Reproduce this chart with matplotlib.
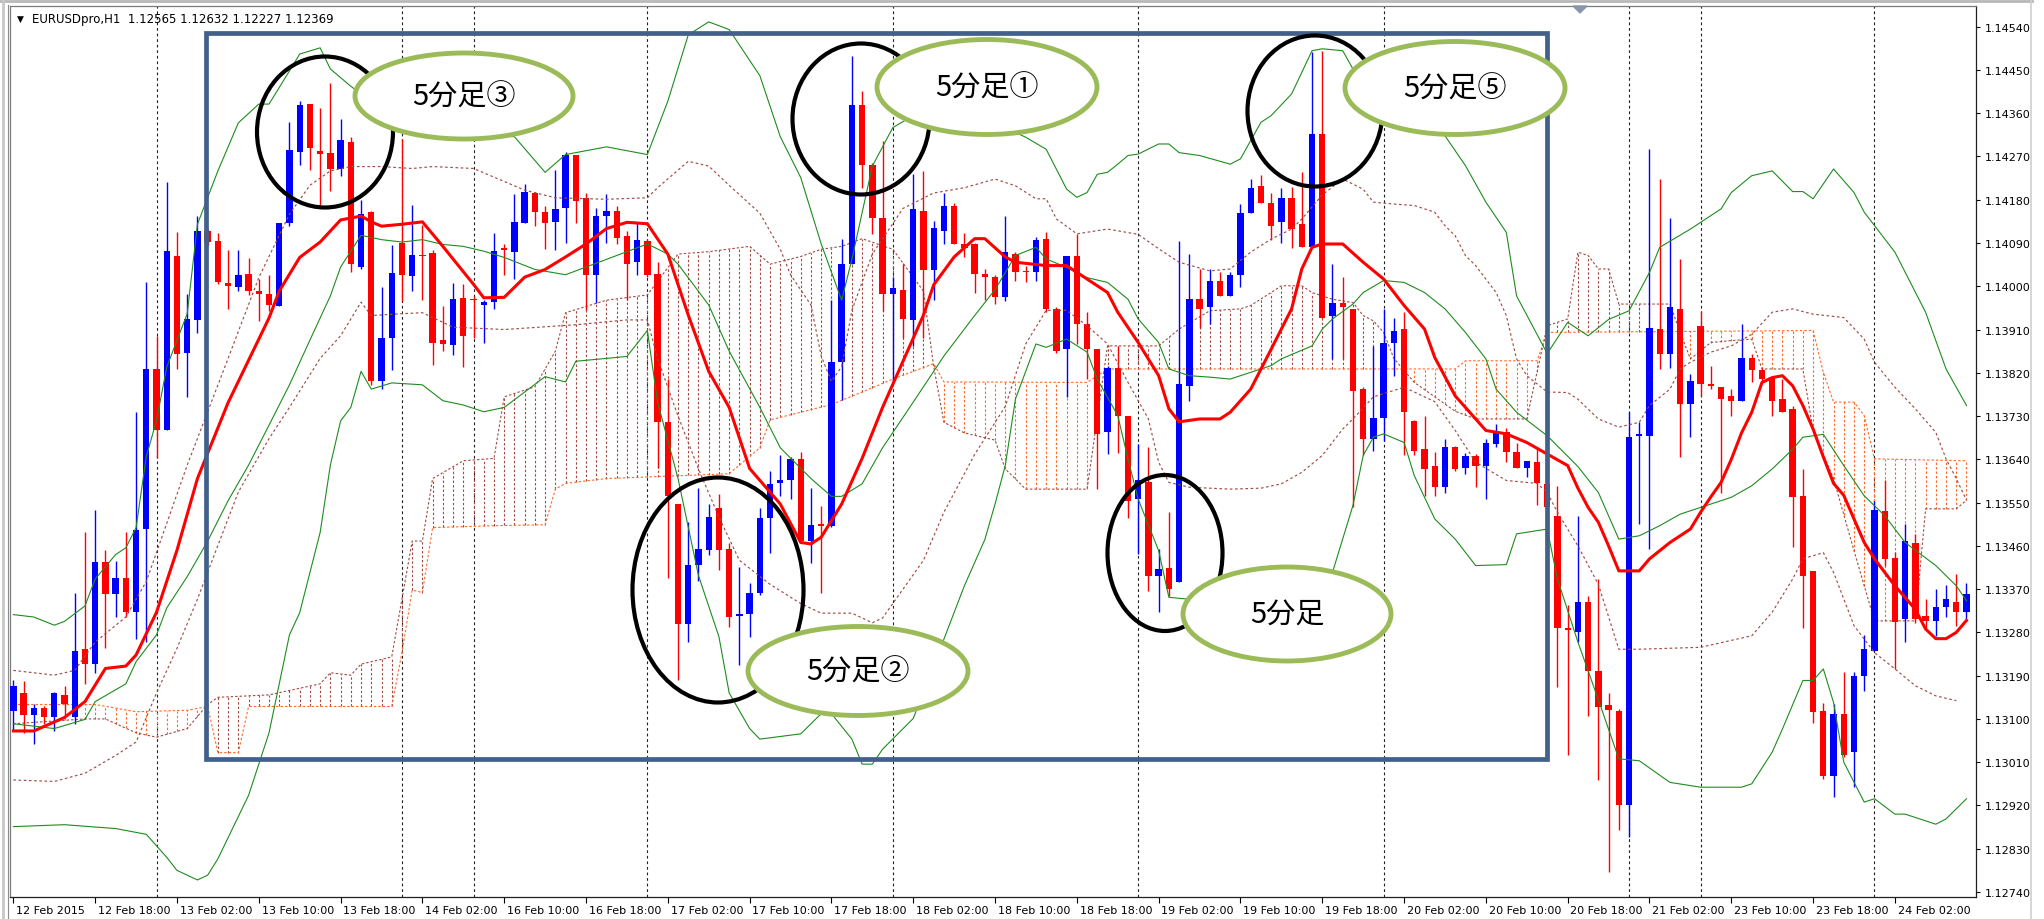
import numpy as np
import matplotlib
matplotlib.use("Agg")
import matplotlib.pyplot as plt
from matplotlib.patches import Ellipse, Rectangle, Polygon
import matplotlib.transforms as mtrans

# EURUSD H1, bar 0 = 12 Feb 2015 10:00
opens = [1.13117, 1.13154, 1.13108, 1.13122, 1.13103, 1.13150, 1.13103, 1.13245, 1.13214, 1.13426,
         1.13359, 1.13394, 1.13322, 1.13496, 1.13828, 1.13702, 1.14062, 1.13862, 1.13930, 1.14115,
         1.14094, 1.14007, 1.13999, 1.14025, 1.13990, 1.13984, 1.13958, 1.14132, 1.14280, 1.14380,
         1.14281, 1.14278, 1.14243, 1.14301, 1.14041, 1.14154, 1.13803, 1.13893, 1.14090, 1.14021,
         1.14064, 1.14069, 1.13888, 1.13877, 1.13976, 1.13974, 1.13962, 1.13967, 1.14079, 1.14072,
         1.14131, 1.14194, 1.14154, 1.14133, 1.14162, 1.14274, 1.14184, 1.14024, 1.14146, 1.14157,
         1.14104, 1.14051, 1.14095, 1.14026, 1.13717, 1.13547, 1.13298, 1.13420, 1.13451, 1.13538,
         1.13453, 1.13315, 1.13319, 1.13361, 1.13517, 1.13591, 1.13597, 1.13640, 1.13470, 1.13506,
         1.13502, 1.13842, 1.14046, 1.14377, 1.14253, 1.14141, 1.13984, 1.13993, 1.13929, 1.14157,
         1.14033, 1.14114, 1.14168, 1.14088, 1.14088, 1.14026, 1.14019, 1.13977, 1.14067, 1.14032,
         1.14029, 1.14098, 1.13953, 1.13869, 1.14064, 1.13921, 1.13869, 1.13696, 1.13831, 1.13731,
         1.13557, 1.13592, 1.13398, 1.13415, 1.13384, 1.13793, 1.13973, 1.13956, 1.14012, 1.13980,
         1.14023, 1.14152, 1.14209, 1.14173, 1.14133, 1.14183, 1.14129, 1.14081, 1.14317, 1.13939,
         1.13965, 1.13953, 1.13786, 1.13682, 1.13727, 1.13883, 1.13911, 1.13720, 1.13661, 1.13627,
         1.13582, 1.13665, 1.13623, 1.13646, 1.13627, 1.13672, 1.13696, 1.13655, 1.13621, 1.13634,
         1.13589, 1.13523, 1.13289, 1.13280, 1.13344, 1.13200, 1.13128, 1.13117, 1.12920, 1.13689,
         1.13689, 1.13911, 1.13859, 1.13953, 1.13755, 1.13918, 1.13797, 1.13790, 1.13772, 1.13762,
         1.13850, 1.13826, 1.13811, 1.13766, 1.13745, 1.13563, 1.13408, 1.13117, 1.12982, 1.13110,
         1.13031, 1.13190, 1.13242, 1.13533, 1.13434, 1.13308, 1.13467, 1.13315, 1.13304, 1.13332,
         1.13344, 1.13322]
highs = [1.13180, 1.13178, 1.13131, 1.13126, 1.13156, 1.13168, 1.13363, 1.13488, 1.13535, 1.13452,
         1.13428, 1.13488, 1.13739, 1.14009, 1.13897, 1.14217, 1.14112, 1.13983, 1.14146, 1.14120,
         1.14111, 1.14076, 1.14076, 1.14058, 1.14015, 1.14024, 1.14132, 1.14341, 1.14386, 1.14380,
         1.14370, 1.14422, 1.14348, 1.14310, 1.14180, 1.14157, 1.13999, 1.14085, 1.14307, 1.14169,
         1.14127, 1.14076, 1.13958, 1.14006, 1.14004, 1.13980, 1.13971, 1.14111, 1.14087, 1.14191,
         1.14213, 1.14196, 1.14168, 1.14242, 1.14279, 1.14274, 1.14194, 1.14162, 1.14192, 1.14168,
         1.14115, 1.14131, 1.14099, 1.14051, 1.13807, 1.13547, 1.13510, 1.13581, 1.13547, 1.13568,
         1.13467, 1.13417, 1.13382, 1.13538, 1.13616, 1.13648, 1.13645, 1.13655, 1.13581, 1.13542,
         1.13972, 1.14099, 1.14479, 1.14406, 1.14256, 1.14302, 1.14019, 1.14046, 1.14234, 1.14239,
         1.14136, 1.14194, 1.14173, 1.14110, 1.14090, 1.14035, 1.14024, 1.14147, 1.14071, 1.14043,
         1.14102, 1.14112, 1.13956, 1.14064, 1.14109, 1.13946, 1.13869, 1.13835, 1.13876, 1.13731,
         1.13672, 1.13665, 1.13453, 1.13530, 1.14095, 1.14067, 1.14036, 1.14036, 1.14029, 1.14029,
         1.14171, 1.14223, 1.14231, 1.14195, 1.14204, 1.14206, 1.14237, 1.14488, 1.14490, 1.14046,
         1.14019, 1.13953, 1.13790, 1.13876, 1.13953, 1.13935, 1.13946, 1.13722, 1.13731, 1.13655,
         1.13682, 1.13668, 1.13654, 1.13651, 1.13682, 1.13714, 1.13706, 1.13674, 1.13637, 1.13665,
         1.13603, 1.13585, 1.13336, 1.13523, 1.13356, 1.13392, 1.13154, 1.13121, 1.13738, 1.13717,
         1.14285, 1.14223, 1.14143, 1.14057, 1.13818, 1.13949, 1.13835, 1.13790, 1.13786, 1.13921,
         1.13859, 1.13831, 1.13814, 1.13807, 1.13750, 1.13620, 1.13408, 1.13134, 1.13131, 1.13197,
         1.13197, 1.13275, 1.13554, 1.13596, 1.13447, 1.13505, 1.13485, 1.13350, 1.13370, 1.13379,
         1.13402, 1.13382]
lows = [1.13075, 1.13071, 1.13047, 1.13089, 1.13075, 1.13108, 1.13089, 1.13173, 1.13196, 1.13247,
        1.13312, 1.13312, 1.13266, 1.13261, 1.13642, 1.13702, 1.13828, 1.13769, 1.13902, 1.14085,
        1.14004, 1.13953, 1.13990, 1.13981, 1.13928, 1.13948, 1.13958, 1.14125, 1.14252, 1.14241,
        1.14169, 1.14199, 1.14229, 1.14029, 1.14035, 1.13795, 1.13786, 1.13825, 1.13970, 1.13990,
        1.13971, 1.13837, 1.13865, 1.13857, 1.13832, 1.13892, 1.13883, 1.13953, 1.14024, 1.14016,
        1.14131, 1.14125, 1.14077, 1.14075, 1.14090, 1.14131, 1.13950, 1.13966, 1.14090, 1.14088,
        1.13971, 1.14024, 1.14019, 1.13621, 1.13393, 1.13181, 1.13260, 1.13387, 1.13441, 1.13409,
        1.13292, 1.13213, 1.13271, 1.13358, 1.13446, 1.13563, 1.13558, 1.13470, 1.13425, 1.13361,
        1.13499, 1.13764, 1.14046, 1.14204, 1.14109, 1.13948, 1.13796, 1.13892, 1.13876, 1.13892,
        1.13972, 1.14088, 1.14088, 1.14060, 1.13987, 1.13972, 1.13963, 1.13970, 1.14012, 1.14008,
        1.14010, 1.13946, 1.13862, 1.13769, 1.13880, 1.13807, 1.13578, 1.13651, 1.13654, 1.13517,
        1.13443, 1.13367, 1.13323, 1.13356, 1.13384, 1.13762, 1.13914, 1.13921, 1.13980, 1.13980,
        1.13998, 1.14152, 1.14173, 1.14097, 1.14091, 1.14079, 1.14081, 1.14081, 1.13935, 1.13849,
        1.13849, 1.13540, 1.13648, 1.13658, 1.13679, 1.13814, 1.13648, 1.13648, 1.13564, 1.13564,
        1.13571, 1.13616, 1.13609, 1.13582, 1.13557, 1.13665, 1.13634, 1.13621, 1.13603, 1.13544,
        1.13377, 1.13166, 1.13024, 1.13259, 1.13107, 1.12972, 1.12781, 1.12868, 1.12854, 1.13505,
        1.13453, 1.13828, 1.13831, 1.13644, 1.13686, 1.13772, 1.13786, 1.13571, 1.13731, 1.13762,
        1.13800, 1.13800, 1.13731, 1.13738, 1.13457, 1.13290, 1.13091, 1.12975, 1.12937, 1.13020,
        1.12958, 1.13159, 1.13242, 1.13419, 1.13204, 1.13259, 1.13300, 1.13290, 1.13273, 1.13311,
        1.13294, 1.13304]
closes = [1.13168, 1.13108, 1.13122, 1.13103, 1.13154, 1.13131, 1.13242, 1.13214, 1.13426, 1.13359,
          1.13394, 1.13322, 1.13493, 1.13828, 1.13702, 1.14073, 1.13860, 1.13932, 1.14115, 1.14092,
          1.14009, 1.14001, 1.14024, 1.13990, 1.13984, 1.13960, 1.14132, 1.14283, 1.14378, 1.14287,
          1.14276, 1.14243, 1.14304, 1.14046, 1.14150, 1.13803, 1.13893, 1.14027, 1.14024, 1.14066,
          1.14062, 1.13883, 1.13879, 1.13974, 1.13897, 1.13971, 1.13967, 1.14073, 1.14076, 1.14134,
          1.14196, 1.14154, 1.14131, 1.14160, 1.14274, 1.14178, 1.14024, 1.14146, 1.14157, 1.14101,
          1.14046, 1.14097, 1.14024, 1.13717, 1.13563, 1.13298, 1.13420, 1.13453, 1.13520, 1.13451,
          1.13311, 1.13318, 1.13361, 1.13517, 1.13589, 1.13597, 1.13640, 1.13470, 1.13504, 1.13502,
          1.13842, 1.14046, 1.14377, 1.14253, 1.14143, 1.13984, 1.13996, 1.13931, 1.14160, 1.14033,
          1.14122, 1.14168, 1.14088, 1.14080, 1.14026, 1.14019, 1.13977, 1.14071, 1.14029, 1.14029,
          1.14097, 1.13953, 1.13866, 1.14064, 1.13921, 1.13869, 1.13693, 1.13831, 1.13731, 1.13554,
          1.13596, 1.13398, 1.13412, 1.13370, 1.13797, 1.13973, 1.13953, 1.14012, 1.13980, 1.14023,
          1.14152, 1.14204, 1.14173, 1.14126, 1.14183, 1.14120, 1.14081, 1.14317, 1.13935, 1.13965,
          1.13956, 1.13783, 1.13682, 1.13727, 1.13883, 1.13907, 1.13738, 1.13658, 1.13620, 1.13582,
          1.13665, 1.13620, 1.13646, 1.13627, 1.13675, 1.13696, 1.13655, 1.13621, 1.13637, 1.13591,
          1.13540, 1.13290, 1.13285, 1.13344, 1.13200, 1.13124, 1.13119, 1.12920, 1.13686, 1.13692,
          1.13914, 1.13859, 1.13956, 1.13755, 1.13802, 1.13797, 1.13793, 1.13766, 1.13762, 1.13850,
          1.13826, 1.13807, 1.13762, 1.13738, 1.13561, 1.13398, 1.13115, 1.12982, 1.13110, 1.13024,
          1.13190, 1.13245, 1.13535, 1.13433, 1.13302, 1.13471, 1.13308, 1.13304, 1.13332, 1.13350,
          1.13323, 1.13360]

# red moving average
ma_bar = [0, 2, 5, 7, 9, 11, 12, 14, 16, 18, 21, 25, 26, 28, 30, 32, 34, 35, 36, 38, 40, 42, 45, 46, 48,
          50, 52, 54, 56, 58, 60, 62, 64, 66, 68, 70, 72, 75, 77, 78, 79, 81, 83, 85, 87, 89, 90, 92, 94,
          95, 97, 98, 101, 103, 105, 107, 108, 110, 112, 113, 114, 116, 118, 119, 121, 123, 125, 126, 127,
          128, 130, 132, 134, 136, 138, 139, 141, 143, 144, 146, 148, 150, 152, 153, 154, 155, 156, 157,
          159, 160, 162, 164, 165, 166, 167, 168, 169, 170, 171, 172, 173, 174, 175, 176, 177, 178, 179,
          181, 182, 184, 186, 187, 188, 189, 190, 191]
ma_val = [1.13075, 1.13075, 1.13103, 1.13136, 1.13205, 1.13210, 1.13233, 1.13322, 1.13451, 1.13600,
          1.13758, 1.13934, 1.13990, 1.14060, 1.14092, 1.14138, 1.14146, 1.14134, 1.14125, 1.14129,
          1.14134, 1.14083, 1.14004, 1.13976, 1.13977, 1.14019, 1.14035, 1.14061, 1.14088, 1.14120,
          1.14133, 1.14130, 1.14067, 1.13940, 1.13823, 1.13748, 1.13621, 1.13547, 1.13467, 1.13464,
          1.13478, 1.13547, 1.13642, 1.13748, 1.13844, 1.13940, 1.14003, 1.14061, 1.14099, 1.14099,
          1.14061, 1.14050, 1.14043, 1.14043, 1.14015, 1.13987, 1.13946, 1.13883, 1.13814, 1.13745,
          1.13718, 1.13724, 1.13724, 1.13738, 1.13786, 1.13869, 1.13953, 1.14036, 1.14081, 1.14088,
          1.14088, 1.14050, 1.14015, 1.13960, 1.13911, 1.13852, 1.13772, 1.13724, 1.13700, 1.13693,
          1.13675, 1.13651, 1.13627, 1.13580, 1.13540, 1.13509, 1.13460, 1.13408, 1.13408, 1.13433,
          1.13467, 1.13495, 1.13530, 1.13562, 1.13592, 1.13640, 1.13695, 1.13738, 1.13800, 1.13810,
          1.13814, 1.13793, 1.13752, 1.13703, 1.13645, 1.13590, 1.13565, 1.13467, 1.13433, 1.13377,
          1.13328, 1.13287, 1.13267, 1.13267, 1.13280, 1.13305]

# bollinger bands: upper, middle, lower (green)
up_bar = [0, 2, 4, 5, 7, 8, 10, 11, 12, 13, 14, 15, 17, 18, 20, 22, 24, 25, 27, 28, 30, 31, 33, 36, 40,
          44, 49, 52, 54, 58, 62, 64, 66, 68, 70, 73, 75, 77, 79, 81, 82, 84, 86, 90, 95, 99, 101, 103,
          104, 105, 106, 107, 108, 109, 110, 112, 113, 114, 116, 119, 120, 122, 123, 125, 126, 127, 128,
          130, 131, 133, 136, 140, 142, 144, 146, 147, 149, 150, 152, 154, 156, 158, 160, 161, 164, 167,
          168, 170, 172, 174, 175, 176, 178, 180, 181, 184, 187, 189, 191]
up_val = [1.13317, 1.13312, 1.13295, 1.13303, 1.13335, 1.13391, 1.13442, 1.13456, 1.13498, 1.13646,
          1.13721, 1.13832, 1.13943, 1.14129, 1.14240, 1.14340, 1.14379, 1.14379, 1.14448, 1.14483,
          1.14496, 1.14452, 1.14416, 1.14370, 1.14340, 1.14320, 1.14311, 1.14237, 1.14274, 1.14290,
          1.14274, 1.14385, 1.14523, 1.14550, 1.14534, 1.14438, 1.14311, 1.14226, 1.14088, 1.13971,
          1.14056, 1.14250, 1.14330, 1.14380, 1.14350, 1.14310, 1.14285, 1.14202, 1.14185, 1.14195,
          1.14233, 1.14237, 1.14254, 1.14272, 1.14275, 1.14296, 1.14296, 1.14278, 1.14272, 1.14254,
          1.14265, 1.14341, 1.14355, 1.14400, 1.14445, 1.14490, 1.14494, 1.14490, 1.14452, 1.14344,
          1.14330, 1.14313, 1.14251, 1.14175, 1.14112, 1.13980, 1.13900, 1.13860, 1.13925, 1.13897,
          1.13931, 1.13949, 1.14029, 1.14081, 1.14119, 1.14161, 1.14195, 1.14230, 1.14240, 1.14197,
          1.14197, 1.14182, 1.14244, 1.14195, 1.14154, 1.14071, 1.13946, 1.13828, 1.13752]
mid_bar = [0, 4, 7, 8, 11, 12, 14, 15, 17, 19, 21, 23, 25, 27, 29, 31, 32, 34, 36, 38, 40, 42, 44, 46,
           48, 51, 54, 58, 62, 64, 65, 68, 70, 73, 75, 78, 80, 81, 83, 85, 88, 91, 94, 96, 98, 100, 101,
           103, 105, 107, 109, 110, 112, 113, 115, 117, 119, 121, 123, 124, 127, 128, 129, 131, 132, 134,
           136, 138, 140, 142, 144, 145, 147, 150, 153, 155, 157, 159, 161, 163, 165, 168, 170, 172, 174,
           175, 177, 179, 181, 183, 185, 188, 190, 191]
mid_val = [1.13090, 1.13080, 1.13099, 1.13136, 1.13173, 1.13219, 1.13275, 1.13331, 1.13396, 1.13470,
           1.13554, 1.13628, 1.13711, 1.13795, 1.13888, 1.13980, 1.14040, 1.14106, 1.14097, 1.14092,
           1.14097, 1.14087, 1.14083, 1.14073, 1.14060, 1.14035, 1.14024, 1.14056, 1.14088, 1.14067,
           1.14046, 1.13961, 1.13865, 1.13748, 1.13664, 1.13600, 1.13563, 1.13563, 1.13589, 1.13664,
           1.13759, 1.13855, 1.13939, 1.13993, 1.14064, 1.14081, 1.14057, 1.14039, 1.14018, 1.14008,
           1.13973, 1.13932, 1.13883, 1.13828, 1.13814, 1.13811, 1.13807, 1.13821, 1.13835, 1.13849,
           1.13876, 1.13911, 1.13932, 1.13963, 1.13987, 1.14012, 1.14008, 1.13987, 1.13953, 1.13904,
           1.13849, 1.13786, 1.13738, 1.13689, 1.13625, 1.13571, 1.13474, 1.13481, 1.13502, 1.13526,
           1.13540, 1.13561, 1.13585, 1.13620, 1.13661, 1.13686, 1.13692, 1.13627, 1.13564, 1.13523,
           1.13467, 1.13419, 1.13377, 1.13346]
lo_bar = [0, 5, 10, 13, 15, 16, 18, 19, 20, 23, 25, 27, 28, 30, 31, 32, 33, 34, 35, 37, 40, 42, 44, 46,
          48, 52, 54, 55, 60, 62, 63, 65, 67, 69, 70, 72, 73, 77, 79, 80, 82, 83, 84, 85, 88, 91, 93, 95,
          96, 97, 98, 100, 101, 103, 105, 106, 108, 109, 110, 112, 113, 115, 116, 119, 123, 127, 129, 131,
          132, 133, 134, 136, 137, 139, 141, 143, 146, 147, 150, 151, 153, 155, 157, 159, 162, 165, 169,
          170, 172, 173, 175, 176, 177, 178, 179, 181, 182, 184, 185, 188, 189, 191]
lo_val = [1.12876, 1.12880, 1.12872, 1.12860, 1.12812, 1.12785, 1.12765, 1.12775, 1.12809, 1.12941,
          1.13071, 1.13275, 1.13321, 1.13488, 1.13628, 1.13720, 1.13748, 1.13823, 1.13786, 1.13799,
          1.13795, 1.13762, 1.13753, 1.13739, 1.13748, 1.13812, 1.13801, 1.13844, 1.13854, 1.13908,
          1.13759, 1.13600, 1.13398, 1.13271, 1.13154, 1.13080, 1.13058, 1.13069, 1.13111, 1.13111,
          1.13058, 1.13006, 1.13006, 1.13037, 1.13101, 1.13266, 1.13377, 1.13473, 1.13547, 1.13627,
          1.13766, 1.13880, 1.13873, 1.13890, 1.13863, 1.13807, 1.13731, 1.13641, 1.13557, 1.13450,
          1.13353, 1.13349, 1.13363, 1.13320, 1.13300, 1.13340, 1.13405, 1.13544, 1.13648, 1.13686,
          1.13693, 1.13675, 1.13606, 1.13516, 1.13474, 1.13419, 1.13421, 1.13485, 1.13495, 1.13391,
          1.13260, 1.13140, 1.13017, 1.13013, 1.12968, 1.12958, 1.12958, 1.12965, 1.13031, 1.13079,
          1.13180, 1.13180, 1.13204, 1.13134, 1.13010, 1.12927, 1.12934, 1.12902, 1.12902, 1.12881,
          1.12892, 1.12934]

# inner bands (brown dotted)
s1u_bar = [0, 4, 6, 8, 11, 13, 15, 17, 19, 21, 24, 27, 29, 31, 33, 36, 39, 41, 45, 47, 50, 53, 58, 62,
           63, 66, 68, 70, 73, 75, 76, 78, 79, 80, 81, 82, 84, 87, 90, 93, 96, 98, 100, 101, 102, 104,
           107, 110, 112, 114, 117, 119, 121, 123, 125, 126, 128, 130, 132, 133, 135, 137, 139, 140, 141,
           142, 143, 145, 146, 147, 148, 150, 152, 153, 155, 157, 159, 160, 162, 163, 164, 166, 168, 170,
           172, 174, 176, 179, 181, 182, 184, 186, 188, 189, 190, 191]
s1u_val = [1.13201, 1.13191, 1.13201, 1.13260, 1.13312, 1.13386, 1.13507, 1.13628, 1.13739, 1.13850,
           1.14018, 1.14150, 1.14210, 1.14240, 1.14249, 1.14249, 1.14245, 1.14249, 1.14245, 1.14227,
           1.14200, 1.14184, 1.14181, 1.14184, 1.14205, 1.14260, 1.14250, 1.14210, 1.14152, 1.14077,
           1.14024, 1.13961, 1.13855, 1.13802, 1.13833, 1.13950, 1.14067, 1.14162, 1.14194, 1.14205,
           1.14223, 1.14209, 1.14182, 1.14182, 1.14140, 1.14109, 1.14119, 1.14108, 1.14078, 1.14050,
           1.14032, 1.14036, 1.14071, 1.14098, 1.14119, 1.14140, 1.14190, 1.14223, 1.14202, 1.14175,
           1.14171, 1.14168, 1.14154, 1.14126, 1.14105, 1.14064, 1.14043, 1.13987, 1.13939, 1.13849,
           1.13814, 1.13780, 1.13779, 1.13765, 1.13724, 1.13707, 1.13717, 1.13752, 1.13786, 1.13828,
           1.13842, 1.13863, 1.13876, 1.13900, 1.13946, 1.13953, 1.13942, 1.13935, 1.13890, 1.13842,
           1.13790, 1.13745, 1.13696, 1.13641, 1.13600, 1.13555]
s1l_bar = [0, 4, 7, 10, 12, 14, 16, 18, 20, 22, 25, 27, 30, 32, 34, 35, 38, 40, 43, 48, 55, 60, 62, 63,
           65, 67, 69, 71, 74, 77, 79, 82, 84, 85, 87, 89, 91, 94, 97, 99, 101, 103, 105, 107, 109, 111,
           112, 113, 115, 119, 122, 124, 126, 128, 130, 131, 133, 136, 139, 141, 143, 146, 149, 150, 151,
           153, 155, 157, 159, 165, 170, 172, 174, 175, 177, 178, 180, 182, 184, 186, 188, 190]
s1l_val = [1.12973, 1.12970, 1.12987, 1.13024, 1.13052, 1.13154, 1.13247, 1.13349, 1.13461, 1.13572,
           1.13683, 1.13748, 1.13850, 1.13897, 1.13967, 1.13939, 1.13943, 1.13945, 1.13915, 1.13910,
           1.13920, 1.13930, 1.13930, 1.13850, 1.13730, 1.13620, 1.13520, 1.13430, 1.13380, 1.13340,
           1.13320, 1.13320, 1.13300, 1.13310, 1.13370, 1.13430, 1.13530, 1.13650, 1.13750, 1.13880,
           1.13950, 1.13950, 1.13918, 1.13880, 1.13800, 1.13724, 1.13634, 1.13592, 1.13582, 1.13578,
           1.13580, 1.13589, 1.13613, 1.13648, 1.13703, 1.13724, 1.13770, 1.13790, 1.13760, 1.13700,
           1.13634, 1.13596, 1.13590, 1.13571, 1.13530, 1.13460, 1.13380, 1.13245, 1.13245, 1.13249,
           1.13273, 1.13322, 1.13391, 1.13433, 1.13446, 1.13405, 1.13294, 1.13238, 1.13204, 1.13169,
           1.13148, 1.13138]

# ichimoku cloud: span A (orange) and span B (brown)
spa_bar = [0, 8, 12, 17, 19, 20, 22, 23, 37, 38, 39, 40, 41, 47, 52, 53, 54, 58, 70, 73, 74, 77, 80, 83,
           86, 90, 91, 105, 107, 141, 142, 149, 150, 176, 177, 178, 180, 181, 182, 191]
spa_val = [1.13130, 1.13130, 1.13115, 1.13118, 1.13126, 1.13030, 1.13030, 1.13126, 1.13126, 1.13238,
           1.13368, 1.13363, 1.13498, 1.13502, 1.13504, 1.13578, 1.13590, 1.13600, 1.13610, 1.13664,
           1.13722, 1.13738, 1.13754, 1.13780, 1.13807, 1.13839, 1.13801, 1.13800, 1.13828, 1.13828,
           1.13845, 1.13845, 1.13904, 1.13908, 1.13821, 1.13759, 1.13759, 1.13731, 1.13641, 1.13637]
spb_bar = [0, 7, 9, 12, 14, 17, 19, 20, 25, 30, 31, 33, 34, 37, 39, 40, 41, 44, 47, 48, 51, 53, 54, 58,
           62, 65, 68, 72, 74, 77, 79, 81, 83, 86, 89, 90, 91, 93, 96, 97, 99, 105, 107, 112, 114, 117,
           120, 121, 123, 124, 126, 127, 129, 131, 132, 133, 134, 135, 137, 139, 141, 143, 148, 150, 152,
           153, 154, 155, 156, 157, 162, 163, 164, 166, 168, 170, 171, 175, 176, 178, 180, 182, 186, 187,
           190, 191]
spb_val = [1.13090, 1.13100, 1.13100, 1.13071, 1.13062, 1.13080, 1.13130, 1.13145, 1.13150, 1.13173,
           1.13196, 1.13191, 1.13214, 1.13229, 1.13470, 1.13470, 1.13600, 1.13637, 1.13642, 1.13770,
           1.13791, 1.13865, 1.13945, 1.13971, 1.13982, 1.14067, 1.14072, 1.14083, 1.14046, 1.14062,
           1.14077, 1.14083, 1.14099, 1.14077, 1.13990, 1.13833, 1.13717, 1.13695, 1.13680, 1.13620,
           1.13578, 1.13578, 1.13876, 1.13876, 1.13911, 1.13949, 1.13953, 1.13960, 1.13987, 1.14001,
           1.14001, 1.13987, 1.13973, 1.13966, 1.13939, 1.13928, 1.13904, 1.13850, 1.13800, 1.13770,
           1.13740, 1.13724, 1.13724, 1.13918, 1.13932, 1.14071, 1.14064, 1.14036, 1.14036, 1.13963,
           1.13963, 1.13904, 1.13849, 1.13883, 1.13887, 1.13890, 1.13828, 1.13828, 1.13700, 1.13600,
           1.13450, 1.13304, 1.13304, 1.13537, 1.13537, 1.13555]

tick_bars = list(range(0, 192, 8))
tick_labels = ["12 Feb 2015", "12 Feb 18:00", "13 Feb 02:00", "13 Feb 10:00", "13 Feb 18:00",
               "14 Feb 02:00", "16 Feb 10:00", "16 Feb 18:00", "17 Feb 02:00", "17 Feb 10:00",
               "17 Feb 18:00", "18 Feb 02:00", "18 Feb 10:00", "18 Feb 18:00", "19 Feb 02:00",
               "19 Feb 10:00", "19 Feb 18:00", "20 Feb 02:00", "20 Feb 10:00", "20 Feb 18:00",
               "21 Feb 02:00", "23 Feb 10:00", "23 Feb 18:00", "24 Feb 02:00"]
day_breaks = [14, 38, 45, 62, 86, 110, 134, 158, 165, 182]
price_ticks = [1.12740 + 0.0009 * k for k in range(21)]

W, H = 2044, 920
fig = plt.figure(figsize=(W / 100, H / 100), dpi=100)
ax = fig.add_axes([10 / W, 22 / H, 1966 / W, 891 / H])
ax.set_xlim(-0.33, 191.93)
ax.set_ylim(1.127296, 1.14583)

# day separators
for b in day_breaks:
    ax.axvline(b, color="#202020", lw=0.8, ls=(0, (2.5, 2.5)), zorder=0.5)

# cloud hatching
n = len(closes)
xs = np.arange(n)
a_line = np.interp(xs, spa_bar, spa_val)
b_line = np.interp(xs, spb_bar, spb_val)
orange = "#FF6A2A"
brown = "#A24B45"
for i in xs:
    c = orange if a_line[i] >= b_line[i] else brown
    ax.vlines(i, min(a_line[i], b_line[i]), max(a_line[i], b_line[i]), colors=c,
              lw=0.8, linestyles=(0, (2.2, 1.8)), zorder=1)
ax.plot(spa_bar, spa_val, color=orange, lw=0.8, ls=(0, (2.2, 1.8)), zorder=1.2)
ax.plot(spb_bar, spb_val, color=brown, lw=0.8, ls=(0, (2.2, 1.8)), zorder=1.2)

# candles
for i in range(n):
    o, h, l, c = opens[i], highs[i], lows[i], closes[i]
    col = "#0000FF" if c >= o else "#FF0000"
    ax.vlines(i, l, h, colors=col, lw=1.0, zorder=3)
    bot = min(o, c)
    hgt = max(abs(c - o), 0.000025)
    ax.bar(i, hgt, bottom=bot, width=0.62, color=col, lw=0, zorder=3.1)

# indicator lines
ax.plot(s1u_bar, s1u_val, color=brown, lw=0.85, ls=(0, (2.2, 2.2)), zorder=4)
ax.plot(s1l_bar, s1l_val, color=brown, lw=0.85, ls=(0, (2.2, 2.2)), zorder=4)
green = "#1E8C1E"
ax.plot(up_bar, up_val, color=green, lw=0.8, zorder=4.2)
ax.plot(mid_bar, mid_val, color=green, lw=0.8, zorder=4.2)
ax.plot(lo_bar, lo_val, color=green, lw=0.8, zorder=4.2)
ax.plot(ma_bar, ma_val, color="#FF0000", lw=2.2, zorder=4.5, solid_joinstyle="round")

# axes styling like the terminal
ax.yaxis.tick_right()
ax.set_yticks(price_ticks)
ax.set_yticklabels(["%.5f" % p for p in price_ticks])
ax.set_xticks(tick_bars)
ax.set_xticklabels(tick_labels)
ax.tick_params(axis="y", direction="out", length=3, width=0.8, pad=3, labelsize=8, colors="#000000")
ax.tick_params(axis="x", direction="out", length=4, width=0.8, pad=2, labelsize=8, colors="#000000")
off = mtrans.ScaledTranslation(2 / 72, 0, fig.dpi_scale_trans)
for lab in ax.get_xticklabels():
    lab.set_horizontalalignment("left")
    lab.set_transform(lab.get_transform() + off)
for s in ["left", "top"]:
    ax.spines[s].set_color("#7A7A7A")
for s in ["right", "bottom"]:
    ax.spines[s].set_color("#202020")
for s in ax.spines.values():
    s.set_linewidth(0.9)

# overlay in pixel units for the hand-drawn marks
ov = fig.add_axes([0, 0, 1, 1], zorder=10)
ov.set_xlim(0, W)
ov.set_ylim(H, 0)
ov.axis("off")

ov.plot([0, W - 12], [1.5, 1.5], color="#B8B8B8", lw=2)
ov.plot([3, 3], [0, H], color="#C8C8C8", lw=2)
ov.plot([7.5, 7.5], [6, H], color="#8C8C8C", lw=0.8)
ov.plot([2031, 2031], [0, H], color="#D0D0D0", lw=1.2)
ov.add_patch(Polygon([(1573, 7), (1587, 7), (1580, 14)], closed=True, color="#8796AA"))
ov.text(17, 19, "▼", fontsize=6.5, ha="left", va="center", color="#000000")
ov.text(32, 19, "EURUSDpro,H1  1.12565 1.12632 1.12227 1.12369", fontsize=8.5,
        ha="left", va="center", color="#000000")

ov.add_patch(Rectangle((206, 34), 1341, 726, fill=False, edgecolor="#41608A", lw=3.4))

black_rings = [(325, 133, 136, 151), (861, 120, 137, 151), (718, 591, 171, 225),
               (1165, 554, 115, 156), (1315, 112, 135, 151)]
for cx, cy, w, h in black_rings:
    ov.add_patch(Ellipse((cx, cy), w, h, fill=False, edgecolor="#000000", lw=3.0))

labels = [(464, 97, 218, 86, "5分足③"), (987, 88, 220, 95, "5分足①"),
          (1455, 89, 220, 93, "5分足⑤"), (858, 672, 220, 89, "5分足②"),
          (1287, 615, 208, 94, "5分足")]
for cx, cy, w, h, t in labels:
    ov.add_patch(Ellipse((cx, cy), w, h, facecolor="white", edgecolor="#9BBB59", lw=3.5))
    ov.text(cx, cy + 1, t, fontsize=21, ha="center", va="center", color="#000000",
            family=["Noto Sans CJK JP", "DejaVu Sans"])

fig.savefig("out.png", dpi=100, facecolor="white")
